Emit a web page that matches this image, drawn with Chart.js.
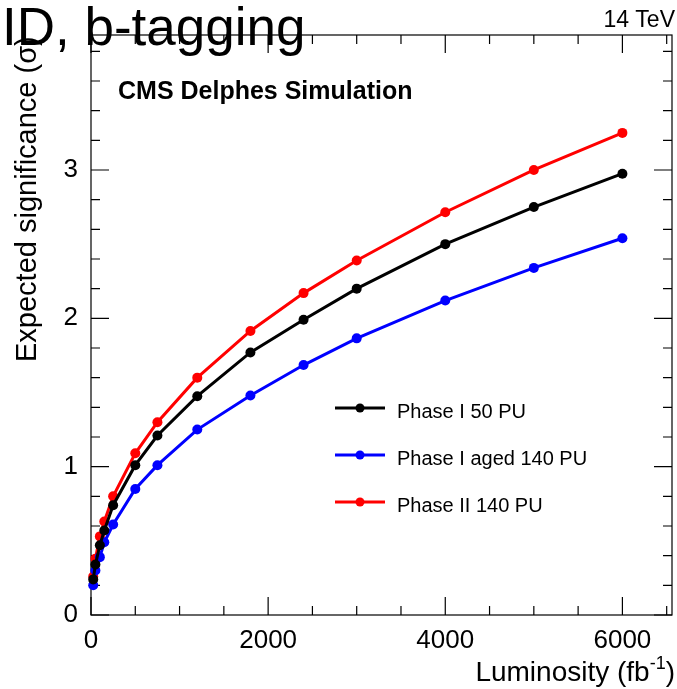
<!DOCTYPE html>
<html>
<head>
<meta charset="utf-8">
<script src="https://cdn.jsdelivr.net/npm/chart.js@4.4.1/dist/chart.umd.min.js"></script>
<style>
  html, body { margin: 0; padding: 0; background: #ffffff; }
  #wrap { width: 677px; height: 689px; position: relative; }
</style>
</head>
<body>
<div id="wrap"><canvas id="chart" width="677" height="689"></canvas></div>
<script>
// Integrated luminosity points (fb^-1)
const luminosity = [25, 50, 100, 150, 250, 500, 750, 1200, 1800, 2400, 3000, 4000, 5000, 6000];

// Expected significance (sigma) for each detector scenario
const phaseI50PU = [0.24, 0.34, 0.47, 0.57, 0.74, 1.01, 1.21, 1.475, 1.77, 1.99, 2.20, 2.50, 2.75, 2.975];
const phaseIAged140PU = [0.20, 0.30, 0.39, 0.49, 0.61, 0.85, 1.01, 1.25, 1.48, 1.685, 1.865, 2.12, 2.34, 2.54];
const phaseII140PU = [0.26, 0.38, 0.53, 0.63, 0.80, 1.09, 1.30, 1.60, 1.915, 2.17, 2.39, 2.715, 3.00, 3.25];

const seriesNames = ['Phase I 50 PU', 'Phase I aged 140 PU', 'Phase II 140 PU'];

// Axis labels
const xTickValues = [0, 2000, 4000, 6000];
const yTickValues = [0, 1, 2, 3];

const FONT = '"Liberation Sans", Arial, Helvetica, sans-serif';
const X_MAX = 6560, Y_MAX = 3.91;

function toPoints(ys) {
  return luminosity.map((x, i) => ({ x: x, y: ys[i] }));
}

function makeSeries(label, values, color) {
  return {
    label: label,
    data: toPoints(values),
    borderColor: color,
    backgroundColor: color,
    borderWidth: 3,
    pointRadius: 5,
    pointHoverRadius: 5,
    pointBorderWidth: 0,
    tension: 0,
    clip: false
  };
}

// Frame with inward ticks on all four sides, ROOT style
const framePlugin = {
  id: 'frame',
  beforeDatasetsDraw(chart) {
    const ctx = chart.ctx;
    const a = chart.chartArea;
    const xs = chart.scales.x, ys = chart.scales.y;
    ctx.save();
    ctx.strokeStyle = '#000';
    ctx.lineWidth = 1.2;
    ctx.strokeRect(a.left, a.top, a.right - a.left, a.bottom - a.top);
    ctx.beginPath();
    for (let i = 0; i * 500 <= X_MAX; i++) {
      const px = xs.getPixelForValue(i * 500);
      const len = (i % 4 === 0) ? 18 : 9;
      ctx.moveTo(px, a.bottom); ctx.lineTo(px, a.bottom - len);
      ctx.moveTo(px, a.top); ctx.lineTo(px, a.top + len);
    }
    for (let j = 0; j * 0.2 <= Y_MAX + 1e-9; j++) {
      const py = ys.getPixelForValue(j * 0.2);
      const len = (j % 5 === 0) ? 18 : 9;
      ctx.moveTo(a.left, py); ctx.lineTo(a.left + len, py);
      ctx.moveTo(a.right, py); ctx.lineTo(a.right - len, py);
    }
    ctx.stroke();
    ctx.restore();
  },
  afterDraw(chart) {
    const ctx = chart.ctx;
    ctx.save();
    ctx.fillStyle = '#000';

    // Legend
    chart.data.datasets.forEach((ds, k) => {
      const y = 408 + k * 47;
      ctx.strokeStyle = ds.borderColor;
      ctx.lineWidth = 3;
      ctx.beginPath();
      ctx.moveTo(335, y); ctx.lineTo(385, y);
      ctx.stroke();
      ctx.fillStyle = ds.borderColor;
      ctx.beginPath();
      ctx.arc(360, y, 4.5, 0, Math.PI * 2);
      ctx.fill();
      ctx.fillStyle = '#000';
      ctx.font = '20px ' + FONT;
      ctx.textAlign = 'left';
      ctx.textBaseline = 'alphabetic';
      ctx.fillText(ds.label, 397, y + 10);
    });

    // Experiment label
    ctx.font = 'bold 25px ' + FONT;
    ctx.textAlign = 'left';
    ctx.fillText('CMS Delphes Simulation', 118, 99);

    // Energy label
    ctx.font = '23px ' + FONT;
    ctx.textAlign = 'right';
    ctx.fillText('14 TeV', 675, 27);

    // X axis title with superscript
    ctx.textAlign = 'left';
    const mainFont = '28px ' + FONT, supFont = '18px ' + FONT;
    ctx.font = mainFont;
    const t1 = 'Luminosity (fb', t3 = ')';
    const w1 = ctx.measureText(t1).width, w3 = ctx.measureText(t3).width;
    ctx.font = supFont;
    const t2 = '-1';
    const w2 = ctx.measureText(t2).width;
    let x0 = 675 - (w1 + w2 + w3);
    const base = 681;
    ctx.font = mainFont;
    ctx.fillText(t1, x0, base);
    ctx.font = supFont;
    ctx.fillText(t2, x0 + w1, base - 12);
    ctx.font = mainFont;
    ctx.fillText(t3, x0 + w1 + w2, base);

    // Y axis title
    ctx.save();
    ctx.translate(36, 362);
    ctx.rotate(-Math.PI / 2);
    ctx.font = '29px ' + FONT;
    ctx.textAlign = 'left';
    ctx.fillText('Expected significance (\u03c3)', 0, 0);
    ctx.restore();

    // Page heading
    ctx.font = '53px ' + FONT;
    ctx.textAlign = 'left';
    ctx.fillText('ID, b-tagging', 2, 45);

    ctx.restore();
  }
};

new Chart(document.getElementById('chart'), {
  type: 'line',
  data: {
    datasets: [
      makeSeries(seriesNames[0], phaseI50PU, '#000000'),
      makeSeries(seriesNames[1], phaseIAged140PU, '#0000ff'),
      makeSeries(seriesNames[2], phaseII140PU, '#ff0000')
    ]
  },
  options: {
    responsive: false,
    animation: false,
    devicePixelRatio: 1,
    layout: { padding: { top: 35, right: 4, left: 0, bottom: 0 } },
    plugins: {
      legend: { display: false },
      tooltip: { enabled: false },
      title: { display: false }
    },
    scales: {
      x: {
        type: 'linear',
        min: 0,
        max: X_MAX,
        grid: { display: false },
        border: { display: false },
        afterBuildTicks: (s) => { s.ticks = xTickValues.map(v => ({ value: v })); },
        afterFit: (s) => { s.height = 74; },
        ticks: {
          autoSkip: false,
          maxRotation: 0,
          padding: 2,
          color: '#000',
          font: { family: FONT, size: 26 },
          callback: (v) => String(v)
        }
      },
      y: {
        type: 'linear',
        min: 0,
        max: Y_MAX,
        grid: { display: false },
        border: { display: false },
        afterBuildTicks: (s) => { s.ticks = yTickValues.map(v => ({ value: v })); },
        afterFit: (s) => { s.width = 91; },
        ticks: {
          autoSkip: false,
          padding: 5,
          color: '#000',
          font: { family: FONT, size: 26 },
          callback: (v) => String(v)
        }
      }
    }
  },
  plugins: [framePlugin]
});
</script>
</body>
</html>
